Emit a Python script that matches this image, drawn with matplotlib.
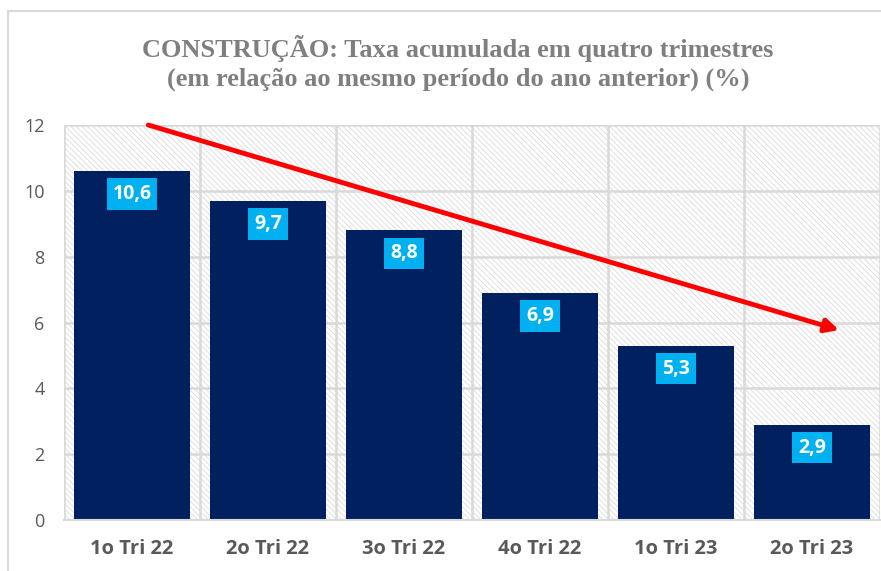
import numpy as np
import matplotlib.pyplot as plt
from matplotlib.lines import Line2D
from matplotlib.patches import Rectangle

categories = ["1o Tri 22", "2o Tri 22", "3o Tri 22", "4o Tri 22", "1o Tri 23", "2o Tri 23"]
values = [10.6, 9.7, 8.8, 6.9, 5.3, 2.9]
labels = ["10,6", "9,7", "8,8", "6,9", "5,3", "2,9"]

plt.rcParams["hatch.color"] = "#d4d4d4"
plt.rcParams["hatch.linewidth"] = 0.5

fig = plt.figure(figsize=(8.81, 5.71), dpi=100)
ax = fig.add_axes([64 / 881, 1 - 520 / 571, 816 / 881, 395 / 571])

x = np.arange(len(categories))
ax.set_xlim(-0.5, len(categories) - 0.5)
ax.set_ylim(0, 12)

# hatched plot background
ax.add_patch(Rectangle((0, 0), 1, 1, transform=ax.transAxes, facecolor="white",
                       hatch="\\" * 6, edgecolor="#d4d4d4", lw=0, zorder=0))

# grid
ax.set_yticks(np.arange(0, 13, 2))
ax.set_xticks(x)
ax.set_xticks(np.arange(-0.5, len(categories), 1), minor=True)
ax.grid(axis="y", which="major", color="#d9d9d9", lw=1.8, zorder=1)
ax.grid(axis="x", which="minor", color="#d9d9d9", lw=1.8, zorder=1)
ax.tick_params(which="both", length=0)
ax.set_axisbelow(True)

ax.bar(x, values, width=0.86, color="#002060", zorder=2)

for xi, v, lab in zip(x, values, labels):
    ax.text(xi, v - 0.7, lab, ha="center", va="center", color="white",
            fontsize=14, fontweight="bold", family="Open Sans", zorder=4,
            bbox=dict(boxstyle="square,pad=0.3", fc="#00b0f0", ec="none"))

# trend arrow
ax.annotate("", xy=(5.2, 5.77), xytext=(0.12, 12.0),
            arrowprops=dict(arrowstyle="-|>,head_length=0.8,head_width=0.4",
                            color="#ff0000", lw=3.5, shrinkA=0, shrinkB=0),
            zorder=5, annotation_clip=False)

ax.set_xticklabels(categories, fontsize=14.5, fontweight="bold", color="#595959", family="Open Sans")
ax.set_yticklabels([str(t) for t in range(0, 13, 2)], fontsize=13, color="#595959", family="Open Sans")
ax.tick_params(axis="x", pad=14)
ax.tick_params(axis="y", pad=14)

for s in ["top", "right", "left"]:
    ax.spines[s].set_visible(False)
ax.spines["bottom"].set_color("#d9d9d9")
ax.spines["bottom"].set_linewidth(1.5)

fig.text(0.52, 0.889, "CONSTRUÇÃO: Taxa acumulada em quatro trimestres\n(em relação ao mesmo período do ano anterior) (%)",
         ha="center", va="center", fontsize=19, fontweight="bold", color="#7f7f7f",
         family="Liberation Serif", linespacing=1.3)

# outer chart frame
fig.add_artist(Line2D([8 / 881, 8 / 881], [0, 1 - 11 / 571], color="#d9d9d9", lw=1.5))
fig.add_artist(Line2D([8 / 881, 1], [1 - 11 / 571, 1 - 11 / 571], color="#d9d9d9", lw=1.5))

fig.savefig("out.png", dpi=100)
